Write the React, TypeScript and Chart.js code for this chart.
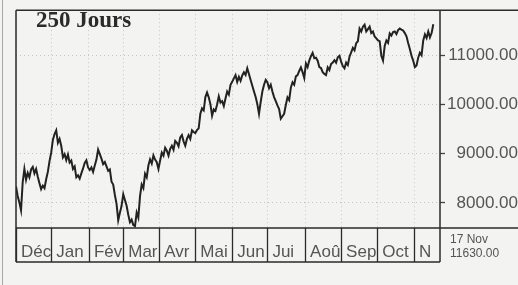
import React, { useEffect, useRef } from "react";
import { Chart, registerables } from "chart.js";

Chart.register(...registerables);

// Closing levels, one per trading day (250 jours)
const CLOSES: number[] = [
  8335, 8140, 8010, 7850, 8420, 8690, 8470, 8610, 8520, 8680,
  8730, 8600, 8690, 8530, 8400, 8280, 8350, 8300, 8480, 8630,
  8850, 9020, 9280, 9400, 9476, 9220, 9300, 9160, 8925, 8990,
  8870, 8984, 8820, 8860, 8690, 8740, 8520, 8560, 8492, 8600,
  8700, 8810, 8866, 8720, 8669, 8720, 8630, 8760, 8880, 9082,
  8990, 8900, 8787, 8830, 8740, 8650, 8680, 8430, 8374, 8160,
  7980, 7646, 7800, 7941, 8177, 8060, 7941, 7760, 7607, 7660,
  7548, 7528, 7804, 7700, 8138, 8374, 8300, 8590, 8520, 8760,
  8885, 8800, 8964, 8880, 8826, 8689, 8860, 9023, 8960, 9121,
  9060, 8960, 9100, 9161, 9080, 9259, 9220, 9150, 9330, 9377,
  9250, 9161, 9300, 9377, 9300, 9476, 9440, 9417, 9480, 9515,
  9810, 9920, 9880, 10150, 10243, 10144, 10007, 9771, 9900, 9869,
  10000, 10164, 10040, 10066, 9967, 10120, 10262, 10200, 10400, 10459,
  10530, 10597, 10459, 10560, 10480, 10590, 10656, 10600, 10734, 10620,
  10498, 10380, 10262, 10150, 10007, 9810, 10050, 10262, 10400, 10498,
  10450, 10330, 10400, 10262, 10150, 10066, 9980, 9908, 9712, 9760,
  9810, 9990, 10144, 10090, 10341, 10450, 10400, 10570, 10597, 10680,
  10754, 10656, 10538, 10833, 10760, 10892, 10980, 11049, 10940, 10951,
  10890, 10760, 10740, 10656, 10620, 10597, 10754, 10700, 10820, 10852,
  10900, 10850, 10960, 10990, 10870, 10780, 10734, 10850, 10800, 10970,
  11060, 11148, 11100, 11246, 11285, 11541, 11480, 11580, 11620, 11482,
  11530, 11580, 11450, 11480, 11380, 11344, 11300, 11285, 10990, 10892,
  11187, 11300, 11250, 11443, 11400, 11470, 11482, 11430, 11510, 11541,
  11520, 11502, 11450, 11384, 11250, 11128, 10990, 10892, 10760, 10793,
  10951, 11050, 11000, 11300, 11423, 11350, 11482, 11364, 11450, 11630,
];

// Month boundaries, in trading-day index, and month labels
const MONTH_STARTS: number[] = [0, 21, 43.5, 64, 85.5, 107, 129, 150, 172.5, 194, 215.5, 237.5];
const MONTH_LABELS: string[] = ["Déc", "Jan", "Fév", "Mar", "Avr", "Mai", "Jun", "Jui", "Aoû", "Sep", "Oct", "N"];
const X_END = 253;

const Y_TICKS: number[] = [8000, 9000, 10000, 11000];
const Y_TICK_LABELS: string[] = ["8000.00", "9000.00", "10000.00", "11000.00"];
const Y_MIN = 7490;
const Y_MAX = 11915;

const TITLE = "250 Jours";
const LAST_DATE = "17 Nov";
const LAST_VALUE = "11630.00";

const INK = "#2b2b2b";
const TEXT = "#555555";
const GRID = "#c4c4c4";
const PAPER = "#f3f3f1";

const framePlugin = {
  id: "frame",
  beforeDraw(chart: any) {
    const { ctx, width, height } = chart;
    ctx.save();
    ctx.fillStyle = PAPER;
    ctx.fillRect(0, 0, width, height);
    ctx.restore();
  },
  afterDraw(chart: any) {
    const { ctx, chartArea, scales } = chart;
    const x = scales.x;
    const { left, right, top, bottom } = chartArea;
    const rowBottom = bottom + 34;
    const W = chart.width;
    const H = chart.height;
    ctx.save();
    // month labels
    ctx.font = "17px 'Liberation Sans', Arial, sans-serif";
    ctx.fillStyle = TEXT;
    ctx.textAlign = "left";
    ctx.textBaseline = "alphabetic";
    MONTH_STARTS.forEach((m, i) => {
      const px = x.getPixelForValue(m);
      ctx.fillText(MONTH_LABELS[i], px + 5, bottom + 29);
    });
    // last quote
    ctx.font = "12px 'Liberation Sans', Arial, sans-serif";
    ctx.fillText(LAST_DATE, right + 10, bottom + 15);
    ctx.fillText(LAST_VALUE, right + 10, bottom + 29);

    // outer faint line
    ctx.strokeStyle = "#a8a8a8";
    ctx.lineWidth = 1;
    ctx.beginPath();
    ctx.moveTo(2.5, 0);
    ctx.lineTo(2.5, H);
    ctx.stroke();

    ctx.strokeStyle = INK;
    ctx.lineWidth = 1.5;
    ctx.beginPath();
    ctx.moveTo(left, top);
    ctx.lineTo(W, top);
    ctx.moveTo(left, bottom);
    ctx.lineTo(W, bottom);
    ctx.moveTo(left, rowBottom);
    ctx.lineTo(right, rowBottom);
    ctx.moveTo(left, top);
    ctx.lineTo(left, rowBottom);
    ctx.moveTo(right, top);
    ctx.lineTo(right, rowBottom);
    ctx.stroke();
    // separators in label row
    ctx.lineWidth = 1.3;
    ctx.beginPath();
    MONTH_STARTS.forEach((m) => {
      const px = Math.round(x.getPixelForValue(m)) + 0.5;
      ctx.moveTo(px, bottom);
      ctx.lineTo(px, rowBottom);
    });
    ctx.stroke();

    // title
    ctx.font = "bold 23px 'Liberation Serif', 'Times New Roman', serif";
    ctx.fillStyle = INK;
    ctx.fillText(TITLE, 36, 27);
    ctx.restore();
  },
};

export default function App() {
  const ref = useRef<HTMLCanvasElement | null>(null);
  useEffect(() => {
    document.body.style.margin = "0";
    const canvas = ref.current;
    if (!canvas) return;
    const chart = new Chart(canvas, {
      type: "line",
      data: {
        datasets: [
          {
            data: CLOSES.map((v, i) => ({ x: i, y: v })),
            borderColor: "#222222",
            borderWidth: 2,
            pointRadius: 0,
            tension: 0,
            fill: false,
          },
        ],
      },
      options: {
        animation: false,
        responsive: false,
        devicePixelRatio: 1,
        layout: { padding: { left: 16, top: 3, right: 0, bottom: 0 } },
        plugins: { legend: { display: false }, tooltip: { enabled: false }, title: { display: false } },
        scales: {
          x: {
            type: "linear",
            min: 0,
            max: X_END,
            afterBuildTicks: (s: any) => {
              s.ticks = MONTH_STARTS.map((v) => ({ value: v }));
            },
            afterFit: (s: any) => {
              s.height = 57;
            },
            ticks: { display: false },
            grid: { color: GRID, lineWidth: 1, drawTicks: false },
            border: { display: false, dash: [1, 3] },
          },
          y: {
            position: "right",
            min: Y_MIN,
            max: Y_MAX,
            afterBuildTicks: (s: any) => {
              s.ticks = Y_TICKS.map((v) => ({ value: v }));
            },
            afterFit: (s: any) => {
              s.width = 78;
            },
            ticks: {
              callback: (v: any) => {
                const i = Y_TICKS.indexOf(Number(v));
                return i >= 0 ? Y_TICK_LABELS[i] : "";
              },
              color: TEXT,
              font: { family: "'Liberation Sans', Arial, sans-serif", size: 17 },
              crossAlign: "far",
              padding: 0,
            },
            grid: {
              color: GRID,
              lineWidth: 1,
              drawTicks: true,
              tickLength: 5,
              tickColor: "#444444",
              tickWidth: 1.3,
              tickBorderDash: [],
            },
            border: { display: false, dash: [1, 3] },
          },
        },
      },
      plugins: [framePlugin],
    } as any);
    return () => chart.destroy();
  }, []);
  return <canvas ref={ref} width={518} height={285} style={{ display: "block", width: 518, height: 285 }} />;
}
